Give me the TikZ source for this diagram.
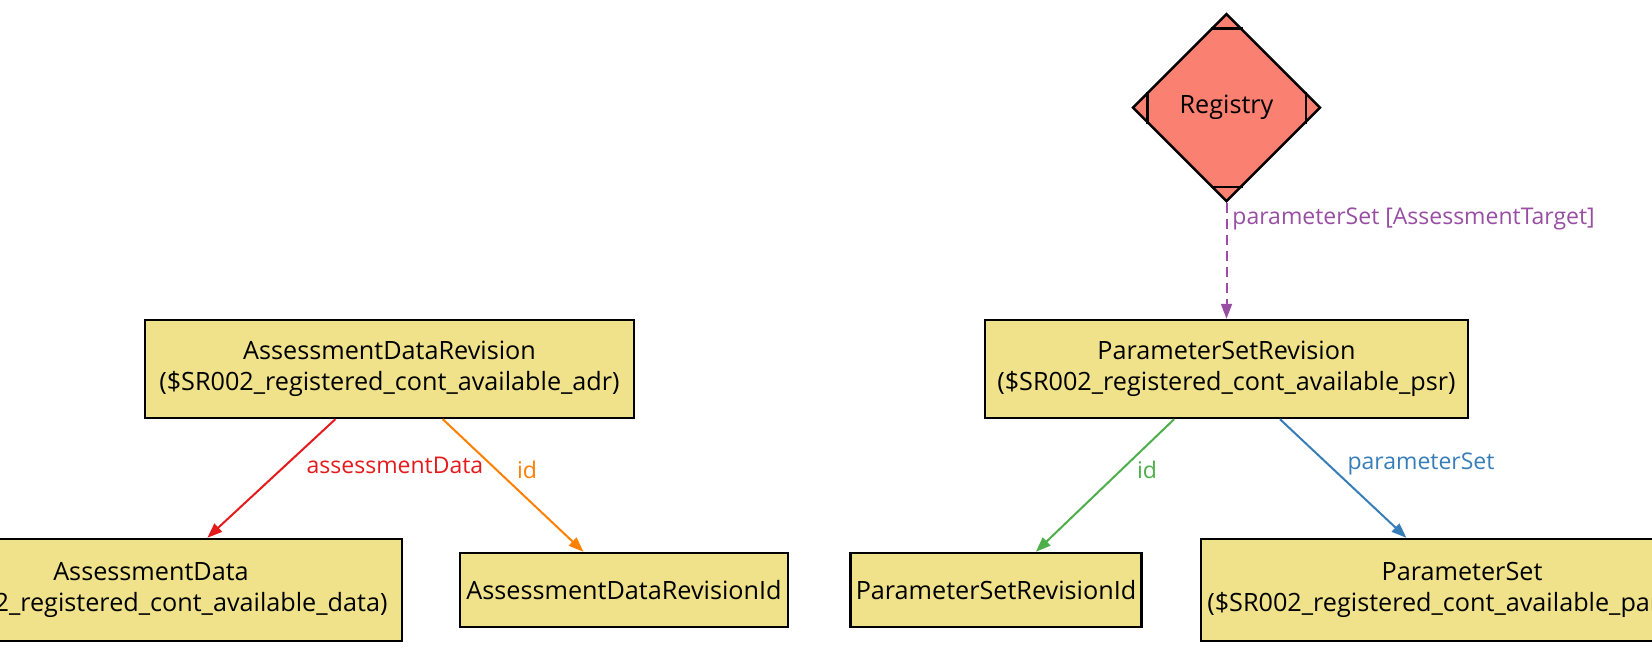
\documentclass[tikz,border=0pt]{standalone}
\usepackage{fontspec}
\setmainfont{Open Sans}
\usepackage{xcolor}
\usetikzlibrary{positioning,shapes.geometric,arrows.meta}

\definecolor{boxfill}{RGB}{240,226,138}
\definecolor{regfill}{RGB}{250,128,114}
\definecolor{linkred}{RGB}{228,26,28}
\definecolor{linkorange}{RGB}{255,127,0}
\definecolor{linkgreen}{RGB}{77,175,74}
\definecolor{linkblue}{RGB}{55,126,184}
\definecolor{linkpurple}{RGB}{152,78,163}

\begin{document}
\begin{tikzpicture}[x=0.5pt, y=-0.5pt]
        % Style cho các hộp: viền đen, nền vàng nhạt
        \tikzstyle{entity} = [
            draw=black,
            line width=1.2pt,
            fill=boxfill,
            align=center,
            inner sep=2pt,
            font=\fontsize{12.6}{15.4}\selectfont
        ]
        % Style cho hình thoi
        \tikzstyle{registry} = [
            diamond,
            draw=black,
            line width=1.2pt,
            fill=regfill,
            minimum width=94pt,
            minimum height=94pt,
            inner sep=0pt,
            font=\fontsize{12.6}{15.4}\selectfont
        ]
        \tikzstyle{link} = [line width=1pt, -{Triangle[length=7.5pt, width=5.5pt]}]
        \tikzstyle{lbl} = [inner sep=0pt, font=\fontsize{11.5}{14}\selectfont]

        \useasboundingbox (0,0) rectangle (1652,672);

        % Hàng giữa
        \node[entity, minimum width=244.5pt, minimum height=49pt] (adr) at (389.5,369)
            {AssessmentDataRevision\\(\$SR002\_registered\_cont\_available\_adr)};
        \node[entity, minimum width=241.5pt, minimum height=49pt] (psr) at (1226.5,369)
            {ParameterSetRevision\\(\$SR002\_registered\_cont\_available\_psr)};

        % Hình thoi phía trên
        \node[registry, above=58pt of psr] (reg) {Registry};
        \draw[line width=1.2pt] ([shift={(-16,16)}]reg.north) -- ++(32,0);
        \draw[line width=1.2pt] ([shift={(-16,-16)}]reg.south) -- ++(32,0);
        \draw[line width=1.2pt] ([shift={(16,-16)}]reg.west) -- ++(0,32);
        \draw[line width=1.2pt] ([shift={(-16,-16)}]reg.east) -- ++(0,32);

        % Hàng dưới
        \node[entity, minimum width=251pt, minimum height=51pt] (ad) at (151,590)
            {AssessmentData\\(\$SR002\_registered\_cont\_available\_data)};
        \node[entity, minimum width=164pt, minimum height=37pt] (adri) at (624,590)
            {AssessmentDataRevisionId};
        \node[entity, minimum width=145.5pt, minimum height=37pt] (psri) at (996,590)
            {ParameterSetRevisionId};
        \node[entity, minimum width=261pt, minimum height=51pt] (ps) at (1462,590)
            {ParameterSet\\(\$SR002\_registered\_cont\_available\_params)};

        % Mũi tên và nhãn
        \draw[link, linkpurple, dash pattern=on 5pt off 3pt] (reg) -- (psr);
        \node[lbl, text=linkpurple, anchor=west] (lreg) at (1232,219) {parameterSet [AssessmentTarget]};

        \draw[link, linkred] (adr) -- (ad);
        \node[lbl, text=linkred] (lad) at (395,465) {assessmentData};

        \draw[link, linkorange] (adr) -- (adri);
        \node[lbl, text=linkorange] (ladri) at (527,470) {id};

        \draw[link, linkgreen] (psr) -- (psri);
        \node[lbl, text=linkgreen] (lpsri) at (1147,470) {id};

        \draw[link, linkblue] (psr) -- (ps);
        \node[lbl, text=linkblue] (lps) at (1421,464) {parameterSet};

    \end{tikzpicture}
\end{document}
